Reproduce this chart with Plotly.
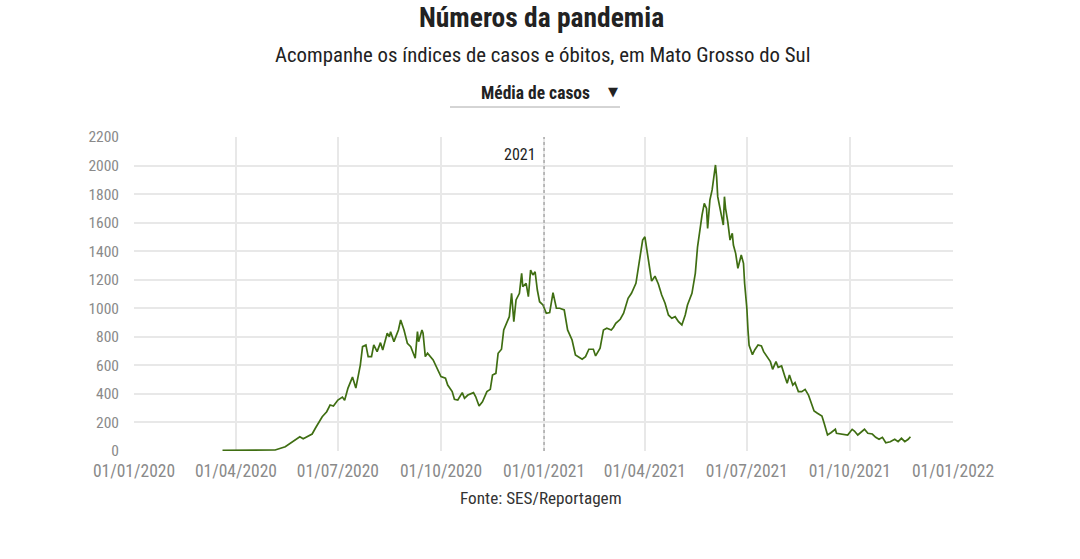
import plotly.graph_objects as go

dates = [
    "2020-03-20", "2020-03-31", "2020-04-14", "2020-04-27", "2020-05-06", "2020-05-15",
    "2020-05-24", "2020-05-28", "2020-05-31", "2020-06-08", "2020-06-11", "2020-06-17",
    "2020-06-21", "2020-06-24", "2020-06-27", "2020-07-01", "2020-07-05", "2020-07-07",
    "2020-07-10", "2020-07-14", "2020-07-17", "2020-07-21", "2020-07-23", "2020-07-26",
    "2020-07-28", "2020-07-31", "2020-08-02", "2020-08-05", "2020-08-08", "2020-08-10",
    "2020-08-14", "2020-08-16", "2020-08-17", "2020-08-20", "2020-08-24", "2020-08-26",
    "2020-08-29", "2020-09-01", "2020-09-04", "2020-09-08", "2020-09-10", "2020-09-11",
    "2020-09-14", "2020-09-15", "2020-09-17", "2020-09-19", "2020-09-24", "2020-09-27",
    "2020-10-01", "2020-10-05", "2020-10-07", "2020-10-11", "2020-10-13", "2020-10-16",
    "2020-10-20", "2020-10-22", "2020-10-25", "2020-10-30", "2020-11-01", "2020-11-04",
    "2020-11-07", "2020-11-11", "2020-11-14", "2020-11-16", "2020-11-19", "2020-11-21",
    "2020-11-24", "2020-11-26", "2020-11-29", "2020-12-01", "2020-12-03", "2020-12-05",
    "2020-12-07", "2020-12-10", "2020-12-12", "2020-12-13", "2020-12-16", "2020-12-18",
    "2020-12-20", "2020-12-22", "2020-12-24", "2020-12-26", "2020-12-28", "2020-12-31",
    "2021-01-03", "2021-01-06", "2021-01-09", "2021-01-12", "2021-01-15", "2021-01-19",
    "2021-01-22", "2021-01-26", "2021-01-29", "2021-01-31", "2021-02-04", "2021-02-07",
    "2021-02-10", "2021-02-14", "2021-02-16", "2021-02-20", "2021-02-23", "2021-02-26",
    "2021-03-02", "2021-03-04", "2021-03-06", "2021-03-10", "2021-03-13", "2021-03-17",
    "2021-03-20", "2021-03-24", "2021-03-28", "2021-03-30", "2021-04-01", "2021-04-04",
    "2021-04-07", "2021-04-10", "2021-04-13", "2021-04-16", "2021-04-19", "2021-04-22",
    "2021-04-25", "2021-04-28", "2021-05-01", "2021-05-04", "2021-05-07", "2021-05-09",
    "2021-05-13", "2021-05-16", "2021-05-18", "2021-05-22", "2021-05-24", "2021-05-26",
    "2021-05-27", "2021-05-29", "2021-05-31", "2021-06-03", "2021-06-04", "2021-06-05",
    "2021-06-08", "2021-06-10", "2021-06-11", "2021-06-12", "2021-06-14", "2021-06-16",
    "2021-06-18", "2021-06-19", "2021-06-21", "2021-06-23", "2021-06-26", "2021-06-28",
    "2021-06-29", "2021-07-01", "2021-07-02", "2021-07-03", "2021-07-06", "2021-07-08",
    "2021-07-11", "2021-07-14", "2021-07-16", "2021-07-20", "2021-07-22", "2021-07-24",
    "2021-07-27", "2021-07-29", "2021-08-01", "2021-08-04", "2021-08-06", "2021-08-08",
    "2021-08-11", "2021-08-13", "2021-08-16", "2021-08-19", "2021-08-22", "2021-08-25",
    "2021-08-28", "2021-08-30", "2021-09-02", "2021-09-06", "2021-09-08", "2021-09-11",
    "2021-09-14", "2021-09-18", "2021-09-19", "2021-09-24", "2021-09-27", "2021-09-29",
    "2021-10-03", "2021-10-05", "2021-10-08", "2021-10-11", "2021-10-14", "2021-10-17",
    "2021-10-21", "2021-10-24", "2021-10-27", "2021-10-30", "2021-11-02", "2021-11-06",
    "2021-11-10", "2021-11-13", "2021-11-16", "2021-11-19", "2021-11-22", "2021-11-24",
]

media_casos = [
    5, 6, 8, 10, 7, 30,
    82, 100, 86, 119, 161, 240,
    275, 322, 315, 357, 378, 355,
    441, 518, 441, 602, 731, 743,
    661, 661, 743, 696, 759, 708,
    825, 801, 836, 766, 848, 918,
    848, 755, 731, 650, 836, 766,
    848, 825, 661, 685, 638, 591,
    521, 510, 462, 416, 362, 357,
    409, 369, 392, 409, 380, 315,
    345, 416, 432, 532, 544, 685,
    713, 848, 906, 941, 1105, 906,
    1058, 1105, 1245, 1151, 1175, 1081,
    1268, 1233, 1256, 1128, 1046, 1023,
    965, 970, 1110, 1000, 1000, 988,
    848, 778, 673, 661, 643, 661,
    713, 713, 666, 720, 848, 860,
    848, 867, 895, 923, 965, 1070,
    1105, 1175, 1385, 1478, 1501, 1340,
    1190, 1225, 1170, 1093, 1035, 953,
    930, 941, 906, 883, 953, 1023,
    1105, 1245, 1431, 1653, 1735, 1700,
    1560, 1758, 1829, 2004, 1922, 1782,
    1665, 1583, 1782, 1700, 1606, 1478,
    1525, 1443, 1385, 1280, 1373, 1315,
    1175, 1000, 850, 740, 675, 708,
    743, 736, 696, 650, 626, 572,
    626, 586, 596, 521, 474, 532,
    462, 479, 416, 416, 432, 392,
    322, 280, 264, 245, 194, 112,
    128, 152, 124, 119, 119, 112,
    152, 140, 112, 135, 152, 124,
    119, 96, 82, 96, 58, 65,
    82, 65, 89, 65, 82, 100,
]

y_ticks = [0, 200, 400, 600, 800, 1000, 1200, 1400, 1600, 1800, 2000, 2200]
x_range = ["2020-01-01", "2022-01-01"]
marker_date = "2021-01-01"
marker_label = "2021"

FONT = "Roboto Condensed, Liberation Sans Narrow, Roboto, sans-serif"

PLOT_L, PLOT_R, PLOT_T, PLOT_B = 134, 953, 137, 451
PW, PH = PLOT_R - PLOT_L, PLOT_B - PLOT_T


def px(pix):
    return (pix - PLOT_L) / PW


def py(pix):
    return (PLOT_B - pix) / PH


fig = go.Figure()
fig.add_trace(go.Scatter(
    x=dates, y=media_casos, mode="lines",
    line=dict(color="#3f6e12", width=1.7),
    name="Média de casos", hovertemplate="%{x|%d/%m/%Y}: %{y}<extra></extra>",
))

fig.add_shape(type="line", xref="x", yref="paper", x0=marker_date, x1=marker_date,
              y0=0, y1=1, line=dict(color="#8a8a8a", width=1, dash="dot"))
fig.add_annotation(x=marker_date, y=2200, xref="x", yref="y", text=marker_label,
                   showarrow=False, xanchor="right", yanchor="top", xshift=-6, yshift=-6,
                   font=dict(family=FONT, size=16, color="#222222"))

fig.add_annotation(x=px(541), y=py(17), xref="paper", yref="paper",
                   text="<b>Números da pandemia</b>", showarrow=False, yanchor="middle",
                   font=dict(family=FONT, size=27.5, color="#222222"))
fig.add_annotation(x=px(542), y=py(55), xref="paper", yref="paper",
                   text="Acompanhe os índices de casos e óbitos, em Mato Grosso do Sul",
                   showarrow=False, yanchor="middle",
                   font=dict(family=FONT, size=20.8, color="#222222"))
fig.add_annotation(x=px(535), y=py(93), xref="paper", yref="paper", text="<b>Média de casos</b>",
                   showarrow=False, yanchor="middle",
                   font=dict(family=FONT, size=17.5, color="#222222"))
fig.add_annotation(x=px(613), y=py(92), xref="paper", yref="paper", text="▼",
                   showarrow=False, yanchor="middle",
                   font=dict(family="DejaVu Sans", size=13, color="#222222"))
fig.add_annotation(x=px(541), y=py(498), xref="paper", yref="paper", text="Fonte: SES/Reportagem",
                   showarrow=False, yanchor="middle",
                   font=dict(family=FONT, size=17.2, color="#333333"))
fig.add_shape(type="line", xref="paper", yref="paper",
              x0=px(450), x1=px(620), y0=py(107), y1=py(107),
              line=dict(color="#aaaaaa", width=1))

fig.update_layout(
    width=1080, height=559,
    margin=dict(l=PLOT_L, r=1080 - PLOT_R, t=PLOT_T, b=559 - PLOT_B),
    paper_bgcolor="white", plot_bgcolor="white",
    showlegend=False,
    font=dict(family=FONT, color="#888888"),
    xaxis=dict(
        range=x_range, type="date", tick0="2020-01-01", dtick="M3",
        tickformat="%d/%m/%Y", showgrid=True, gridcolor="#e8e8e8", gridwidth=1.5,
        zeroline=False, showline=False, ticks="", ticklabelstandoff=7,
        tickfont=dict(size=17.5, color="#8a8a8a"), fixedrange=True,
    ),
    yaxis=dict(
        range=[0, 2200], tickvals=y_ticks, showgrid=True, gridcolor="#e8e8e8", gridwidth=1.5,
        zeroline=False, showline=False, ticks="", ticklabelstandoff=14,
        tickfont=dict(size=15.5, color="#8a8a8a"), fixedrange=True,
    ),
)

fig.write_html("out.html")
